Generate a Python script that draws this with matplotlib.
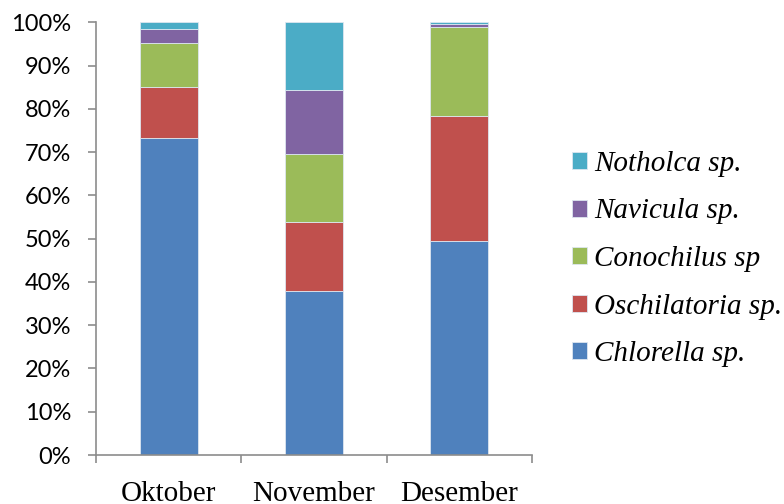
import matplotlib
matplotlib.use("Agg")
import matplotlib.pyplot as plt
import numpy as np
from matplotlib.ticker import FixedLocator, PercentFormatter

months = ["Oktober", "November", "Desember"]
species = ["Chlorella sp.", "Oschilatoria sp.", "Conochilus sp", "Navicula sp.", "Notholca sp."]
chlorella = [73.2, 37.8, 49.4]
oschilatoria = [11.9, 16.0, 29.0]
conochilus = [10.1, 15.7, 20.4]
navicula = [3.3, 14.9, 0.7]
notholca = [1.5, 15.6, 0.5]
colors = ["#4F81BD", "#C0504D", "#9BBB59", "#8064A2", "#4BACC6"]

series = [chlorella, oschilatoria, conochilus, navicula, notholca]

plt.rcParams["font.family"] = ["Liberation Serif", "DejaVu Serif"]

fig = plt.figure(figsize=(7.84, 5.04), dpi=100)
ax = fig.add_axes([0.1224, 0.0972, 0.5562, 0.8586])

x = np.arange(len(months))
bottom = np.zeros(len(months))
handles = []
for vals, name, col in zip(series, species, colors):
    b = ax.bar(x, vals, width=0.4, bottom=bottom, color=col, edgecolor="#DDE6F0",
               linewidth=0.6, label=name)
    handles.append(b)
    bottom += np.array(vals)

ax.set_xlim(-0.5, 2.5)
ax.set_ylim(0, 100)
ax.yaxis.set_major_locator(FixedLocator(np.arange(0, 101, 10)))
ax.yaxis.set_major_formatter(PercentFormatter(decimals=0))
ax.set_xticks(x)
ax.set_xticklabels(months, fontsize=21)
ax.xaxis.set_minor_locator(FixedLocator([-0.5, 0.5, 1.5, 2.5]))
ax.tick_params(axis="x", which="major", length=0, pad=19)
ax.tick_params(axis="x", which="minor", length=6, width=1.2, color="#8C8C8C", direction="out")
ax.tick_params(axis="y", labelsize=17, length=6, width=1.2, color="#8C8C8C", direction="out", pad=12)
for lbl in ax.get_yticklabels():
    lbl.set_family(["Lato", "DejaVu Sans"])

for side in ["top", "right"]:
    ax.spines[side].set_visible(False)
for side in ["left", "bottom"]:
    ax.spines[side].set_color("#8C8C8C")
    ax.spines[side].set_linewidth(1.2)

leg = fig.legend(handles[::-1], species[::-1], loc="center left",
                 bbox_to_anchor=(0.696, 0.486), frameon=False,
                 prop={"family": ["Liberation Serif"], "style": "italic", "size": 21},
                 handlelength=0.52, handleheight=0.52, handletextpad=0.25,
                 labelspacing=0.74)

fig.savefig("out.png", dpi=100)
